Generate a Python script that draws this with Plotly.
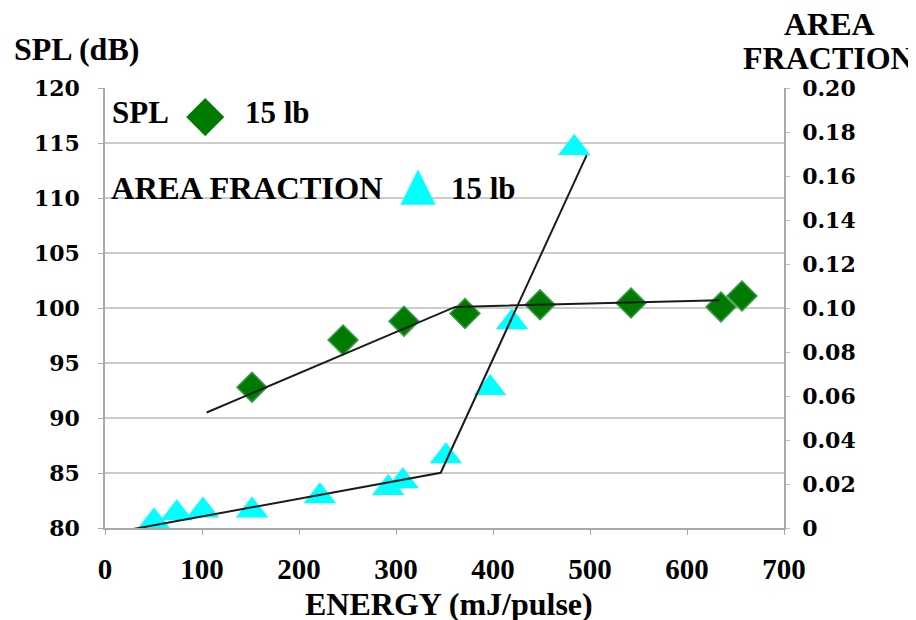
import plotly.graph_objects as go

# ---- data ----
energy_spl = [151.5, 245.4, 308.2, 371.1, 448.5, 542.3, 635.0, 656.7]
spl_db = [92.8, 97.1, 98.8, 99.5, 100.3, 100.45, 100.1, 101.1]

energy_area = [50.5, 74.0, 101.0, 151.6, 221.6, 292.0, 307.0, 351.5, 397.0, 419.6, 483.8]
area_fraction = [0.003, 0.0067, 0.008, 0.008, 0.0144, 0.0182, 0.0212, 0.0326, 0.0636, 0.0935, 0.1727]

spl_trend_x = [104.8, 361.0, 634.0]
spl_trend_y = [90.5, 100.1, 100.7]
area_trend_x = [22.4, 346.1, 496.6]
area_trend_y = [-0.001, 0.0251, 0.1695]

x_ticks = [0, 100, 200, 300, 400, 500, 600, 700]
spl_ticks = [80, 85, 90, 95, 100, 105, 110, 115, 120]
area_ticks = [0, 0.02, 0.04, 0.06, 0.08, 0.10, 0.12, 0.14, 0.16, 0.18, 0.20]
area_tick_text = ["0", "0.02", "0.04", "0.06", "0.08", "0.10", "0.12", "0.14", "0.16", "0.18", "0.20"]

GREEN = "#007a00"
CYAN = "#00ffff"
SERIF = "Liberation Serif"
WIDE = "DejaVu Serif"

fig = go.Figure()

fig.add_trace(go.Scatter(
    x=energy_area, y=area_fraction, yaxis="y2", mode="markers",
    marker=dict(symbol="triangle-up", size=28, color=CYAN, line=dict(width=0)),
    showlegend=False, cliponaxis=False))
fig.add_trace(go.Scatter(
    x=energy_spl, y=spl_db, mode="markers",
    marker=dict(symbol="diamond", size=23, color=GREEN, line=dict(width=1.5, color="#3a9a4a")),
    showlegend=False, cliponaxis=False))
fig.add_trace(go.Scatter(
    x=spl_trend_x, y=spl_trend_y, mode="lines",
    line=dict(color="#1c1c1c", width=2), showlegend=False))
fig.add_trace(go.Scatter(
    x=area_trend_x, y=area_trend_y, yaxis="y2", mode="lines",
    line=dict(color="#1c1c1c", width=2), showlegend=False))

# page body has an 8px margin: work in screen pixels, then shift
OFF = 8
W, H = 916, 620
L, T = 105 - OFF, 88 - OFF
PW, PH = 679, 440
R = W - L - PW
B = H - T - PH


def px(xs):
    return (xs - OFF - L) / PW


def py(ys):
    return (T + PH - (ys - OFF)) / PH


def ann(text, x, y, size, family=SERIF, color="black", xanchor="center", bold=True):
    fig.add_annotation(
        text=text, x=px(x), y=py(y), xref="paper", yref="paper",
        xanchor=xanchor, yanchor="middle", showarrow=False,
        font=dict(family=family, size=size, color=color, weight="bold" if bold else "normal"))


# axis titles
ann("SPL (dB)", 76, 49, 32)
ann("AREA", 829, 24, 32)
ann("FRACTION", 828, 58, 32)
ann("ENERGY (mJ/pulse)", 449, 604, 32)

# legend
ann("SPL", 110, 113, 31, xanchor="left")
ann("\u25C6", 205, 113, 50, family="DejaVu Sans", color=GREEN, bold=False)
ann("15 lb", 243, 113, 31, xanchor="left")
ann("AREA FRACTION", 109, 188, 32.5, xanchor="left")
ann("\u25B2", 418, 183, 46, family="DejaVu Sans", color=CYAN, bold=False)
ann("15 lb", 449, 188, 31, xanchor="left")

fig.update_layout(
    width=W, height=H,
    margin=dict(l=L, r=R, t=T, b=B, pad=0),
    paper_bgcolor="white", plot_bgcolor="white",
    showlegend=False,
    xaxis=dict(
        range=[0, 700], tickvals=x_ticks, showgrid=False, zeroline=False,
        showline=True, linecolor="#a8a8a8", linewidth=1.5,
        ticks="outside", ticklen=5, tickcolor="#a8a8a8", tickwidth=1,
        ticklabelstandoff=9,
        tickfont=dict(family=SERIF, size=29, color="black", weight="bold")),
    yaxis=dict(
        range=[80, 120], tickvals=spl_ticks, showgrid=True, gridcolor="#cccccc", gridwidth=1.5,
        zeroline=False, showline=True, linecolor="#a8a8a8", linewidth=1.5,
        ticks="outside", ticklen=5, tickcolor="#a8a8a8", tickwidth=1,
        ticklabelstandoff=14,
        tickfont=dict(family=WIDE, size=22, color="black", weight="bold")),
    yaxis2=dict(
        range=[0, 0.2], tickvals=area_ticks, ticktext=area_tick_text,
        overlaying="y", side="right", showgrid=False, zeroline=False,
        showline=True, linecolor="#a8a8a8", linewidth=1.5,
        ticks="outside", ticklen=4, tickcolor="#c0c0c0", tickwidth=1,
        ticklabelstandoff=8,
        tickfont=dict(family=WIDE, size=22, color="black", weight="bold")),
)

fig.write_html("out.html")
